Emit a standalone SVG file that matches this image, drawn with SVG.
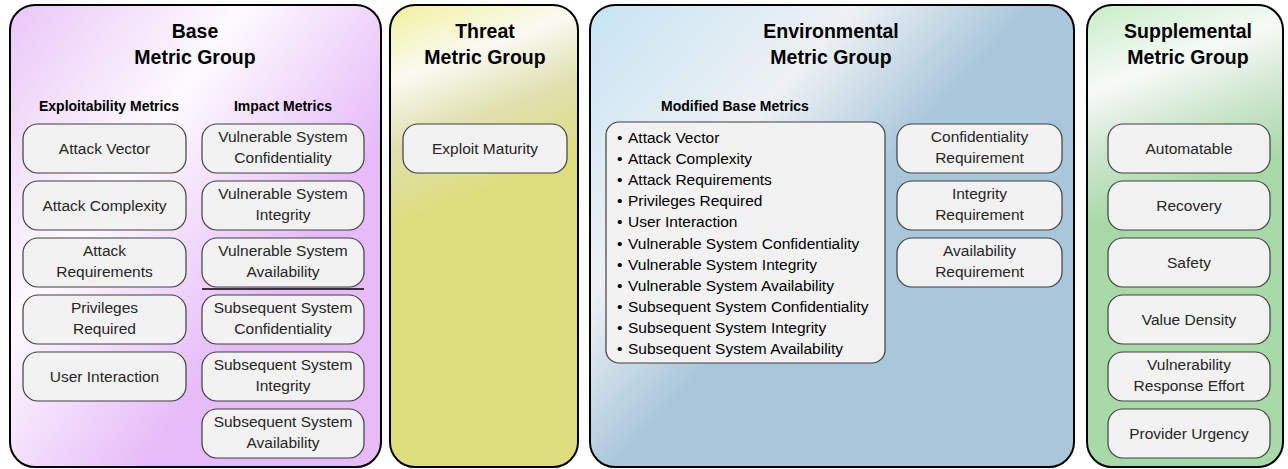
<svg xmlns="http://www.w3.org/2000/svg" width="1288" height="469" viewBox="0 0 1288 469">
<defs>
<linearGradient id="gBase" gradientUnits="userSpaceOnUse" x1="10" y1="4" x2="318" y2="228">
<stop offset="0" stop-color="#EAC6F7"/><stop offset="0.5" stop-color="#FDFAFE"/><stop offset="1" stop-color="#E6BBF8"/>
</linearGradient>
<linearGradient id="gThreat" gradientUnits="userSpaceOnUse" x1="390" y1="4" x2="464" y2="200">
<stop offset="0" stop-color="#F1F19B"/><stop offset="0.35" stop-color="#FAFAF3"/><stop offset="0.65" stop-color="#E0E0B0"/><stop offset="1" stop-color="#DDDD7E"/>
</linearGradient>
<linearGradient id="gEnv" gradientUnits="userSpaceOnUse" x1="590" y1="4" x2="834" y2="225">
<stop offset="0" stop-color="#C6E4F4"/><stop offset="0.6" stop-color="#EEF1F4"/><stop offset="1" stop-color="#A9C7DB"/>
</linearGradient>
<linearGradient id="gSupp" gradientUnits="userSpaceOnUse" x1="1087" y1="4" x2="1160" y2="200">
<stop offset="0" stop-color="#C7EDC7"/><stop offset="0.4" stop-color="#F7FAF7"/><stop offset="0.7" stop-color="#CDE6CD"/><stop offset="1" stop-color="#A8DAA8"/>
</linearGradient>
</defs>
<style>
.panel{stroke:#000;stroke-width:2}
.box{fill:#F2F2F2;stroke:#404040;stroke-width:1.2}
.t{font-family:"Liberation Sans",Arial,sans-serif;font-size:15.5px;fill:#262626;text-anchor:middle}
.h{font-family:"Liberation Sans",Arial,sans-serif;font-size:19.5px;font-weight:bold;fill:#000;text-anchor:middle}
.s{font-family:"Liberation Sans",Arial,sans-serif;font-size:14px;font-weight:bold;fill:#000;text-anchor:middle}
.b{font-family:"Liberation Sans",Arial,sans-serif;font-size:15.5px;fill:#000}
</style>

<g id="base">
<rect class="panel" x="10" y="5" width="371" height="462" rx="25" fill="url(#gBase)"/>
<text class="h" x="195" y="38">Base</text>
<text class="h" x="195" y="64">Metric Group</text>
<text class="s" x="109" y="111">Exploitability Metrics</text>
<text class="s" x="283" y="111">Impact Metrics</text>
<line x1="202" y1="289" x2="364" y2="289" stroke="#000" stroke-width="1.6"/>
</g>
<g id="attack-vector"><rect class="box" x="23" y="124" width="163" height="49" rx="15"/><text class="t" x="104.5" y="154">Attack Vector</text></g>
<g id="attack-complexity"><rect class="box" x="23" y="181" width="163" height="49" rx="15"/><text class="t" x="104.5" y="211">Attack Complexity</text></g>
<g id="attack-requirements"><rect class="box" x="23" y="238" width="163" height="49" rx="15"/><text class="t" x="104.5" y="256">Attack</text><text class="t" x="104.5" y="277">Requirements</text></g>
<g id="privileges-required"><rect class="box" x="23" y="295" width="163" height="49" rx="15"/><text class="t" x="104.5" y="313">Privileges</text><text class="t" x="104.5" y="334">Required</text></g>
<g id="user-interaction"><rect class="box" x="23" y="352" width="163" height="49" rx="15"/><text class="t" x="104.5" y="382">User Interaction</text></g>
<g id="vs-conf"><rect class="box" x="202" y="124" width="162" height="49" rx="15"/><text class="t" x="283" y="142">Vulnerable System</text><text class="t" x="283" y="163">Confidentiality</text></g>
<g id="vs-int"><rect class="box" x="202" y="181" width="162" height="49" rx="15"/><text class="t" x="283" y="199">Vulnerable System</text><text class="t" x="283" y="220">Integrity</text></g>
<g id="vs-avail"><rect class="box" x="202" y="238" width="162" height="49" rx="15"/><text class="t" x="283" y="256">Vulnerable System</text><text class="t" x="283" y="277">Availability</text></g>
<g id="ss-conf"><rect class="box" x="202" y="295" width="162" height="49" rx="15"/><text class="t" x="283" y="313">Subsequent System</text><text class="t" x="283" y="334">Confidentiality</text></g>
<g id="ss-int"><rect class="box" x="202" y="352" width="162" height="49" rx="15"/><text class="t" x="283" y="370">Subsequent System</text><text class="t" x="283" y="391">Integrity</text></g>
<g id="ss-avail"><rect class="box" x="202" y="409" width="162" height="49" rx="15"/><text class="t" x="283" y="427">Subsequent System</text><text class="t" x="283" y="448">Availability</text></g>

<g id="threat">
<rect class="panel" x="390" y="5" width="188" height="462" rx="25" fill="url(#gThreat)"/>
<text class="h" x="485" y="38">Threat</text>
<text class="h" x="485" y="64">Metric Group</text>
</g>
<g id="exploit-maturity"><rect class="box" x="403" y="124" width="164" height="49" rx="15"/><text class="t" x="485" y="154">Exploit Maturity</text></g>

<g id="environmental">
<rect class="panel" x="590" y="5" width="484" height="462" rx="25" fill="url(#gEnv)"/>
<text class="h" x="831" y="38">Environmental</text>
<text class="h" x="831" y="64">Metric Group</text>
<text class="s" x="735" y="111">Modified Base Metrics</text>
</g>
<g id="modified-base">
<rect class="box" x="606" y="122" width="279" height="241" rx="13"/>
<g class="b">
<text x="617" y="143">•</text><text x="628" y="143">Attack Vector</text>
<text x="617" y="164">•</text><text x="628" y="164">Attack Complexity</text>
<text x="617" y="185">•</text><text x="628" y="185">Attack Requirements</text>
<text x="617" y="206">•</text><text x="628" y="206">Privileges Required</text>
<text x="617" y="227">•</text><text x="628" y="227">User Interaction</text>
<text x="617" y="248.5">•</text><text x="628" y="248.5">Vulnerable System Confidentiality</text>
<text x="617" y="269.5">•</text><text x="628" y="269.5">Vulnerable System Integrity</text>
<text x="617" y="290.5">•</text><text x="628" y="290.5">Vulnerable System Availability</text>
<text x="617" y="312">•</text><text x="628" y="312">Subsequent System Confidentiality</text>
<text x="617" y="333">•</text><text x="628" y="333">Subsequent System Integrity</text>
<text x="617" y="354">•</text><text x="628" y="354">Subsequent System Availability</text>
</g>
</g>
<g id="conf-req"><rect class="box" x="897" y="124" width="165" height="49" rx="15"/><text class="t" x="979.5" y="142">Confidentiality</text><text class="t" x="979.5" y="163">Requirement</text></g>
<g id="int-req"><rect class="box" x="897" y="181" width="165" height="49" rx="15"/><text class="t" x="979.5" y="199">Integrity</text><text class="t" x="979.5" y="220">Requirement</text></g>
<g id="avail-req"><rect class="box" x="897" y="238" width="165" height="49" rx="15"/><text class="t" x="979.5" y="256">Availability</text><text class="t" x="979.5" y="277">Requirement</text></g>

<g id="supplemental">
<rect class="panel" x="1087" y="5" width="196" height="462" rx="25" fill="url(#gSupp)"/>
<text class="h" x="1188" y="38">Supplemental</text>
<text class="h" x="1188" y="64">Metric Group</text>
</g>
<g id="automatable"><rect class="box" x="1108" y="124" width="162" height="49" rx="15"/><text class="t" x="1189" y="154">Automatable</text></g>
<g id="recovery"><rect class="box" x="1108" y="181" width="162" height="49" rx="15"/><text class="t" x="1189" y="211">Recovery</text></g>
<g id="safety"><rect class="box" x="1108" y="238" width="162" height="49" rx="15"/><text class="t" x="1189" y="268">Safety</text></g>
<g id="value-density"><rect class="box" x="1108" y="295" width="162" height="49" rx="15"/><text class="t" x="1189" y="325">Value Density</text></g>
<g id="vre"><rect class="box" x="1108" y="352" width="162" height="49" rx="15"/><text class="t" x="1189" y="370">Vulnerability</text><text class="t" x="1189" y="391">Response Effort</text></g>
<g id="provider-urgency"><rect class="box" x="1108" y="409" width="162" height="49" rx="15"/><text class="t" x="1189" y="439">Provider Urgency</text></g>

<g id="connectors"></g>
</svg>
